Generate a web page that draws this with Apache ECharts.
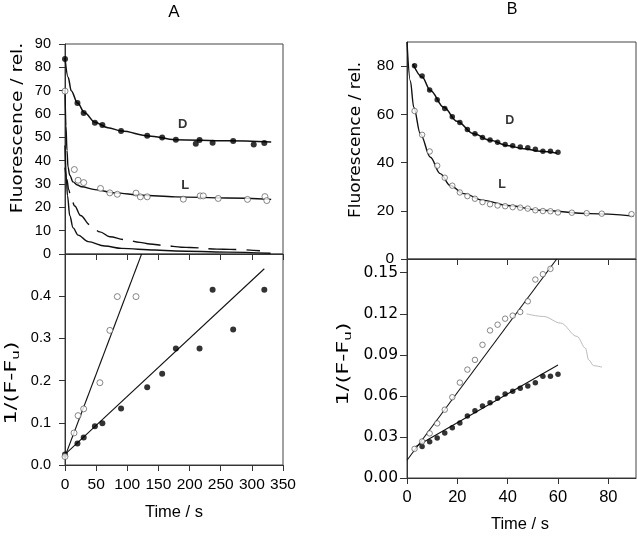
<!DOCTYPE html>
<html><head><meta charset="utf-8">
<script src="https://cdn.jsdelivr.net/npm/echarts@6/dist/echarts.min.js"></script>
<style>html,body{margin:0;padding:0;background:#fff}#c{width:637px;height:536px}</style>
</head><body><div id="c"></div>
<script>
// ---------- Panel A, top: fluorescence vs time ----------
const aTimeD = [0, 20, 30, 48, 60, 90, 132, 156, 178, 210, 216, 237, 270, 303, 320];
const aFluoD = [83.6, 64.7, 60.4, 56.3, 55.3, 52.7, 50.7, 49.9, 49.0, 47.3, 48.9, 47.7, 48.4, 46.9, 47.6];
const aTimeL = [0, 15, 21, 30, 57, 72, 84, 114, 121, 132, 190, 217, 222, 246, 293, 321, 324];
const aFluoL = [69.8, 36.2, 31.6, 30.6, 28.1, 26.2, 25.6, 26.1, 24.5, 24.5, 23.5, 24.9, 24.9, 23.8, 23.4, 24.6, 22.9];
// fitted curves
const aFitDTime = [0, 5, 10, 20, 32, 48, 69, 91, 134, 177, 260, 331];
const aFitDFluo = [84, 75.8, 70, 64.7, 60.4, 56.5, 54.1, 52.7, 50.6, 49.0, 48.5, 48.0];
const aFitLTime = [0, 1.5, 3.2, 4.8, 7.6, 12.9, 20, 26.4, 48, 80, 123, 177, 260, 331];
const aFitLFluo = [70, 55, 44.4, 37.3, 33.8, 30.9, 29.6, 28.8, 27.6, 26.2, 25.2, 24.5, 24.0, 23.4];
const aLowTime = [0, 2, 4, 7.6, 13, 21, 37, 64, 91, 144, 177, 260, 330];
const aLowFluo = [46.5, 33, 25, 16.5, 11.2, 8.1, 5.3, 3.4, 2.4, 1.7, 1.3, 0.8, 0.3];
const aDashTime = [0, 3, 6, 9, 15.6, 25, 40, 56, 72, 95, 120, 136, 160, 187, 201, 244, 265, 313];
const aDashFluo = [37, 32, 27.6, 24.8, 20.6, 16.5, 12.5, 9.5, 7.4, 6.2, 5.0, 4.3, 3.6, 2.9, 2.8, 2.1, 2.0, 1.4];
// ---------- Panel A, bottom: 1/(F-Fu) vs time ----------
const aInvTimeD = [0, 20, 30, 48, 60, 90, 132, 156, 178, 216, 237, 270, 320];
const aInvD = [0.025, 0.051, 0.065, 0.092, 0.099, 0.134, 0.184, 0.216, 0.276, 0.276, 0.415, 0.321, 0.415];
const aInvTimeL = [0, 14.5, 21, 30, 56, 72, 84, 114];
const aInvL = [0.020, 0.076, 0.117, 0.133, 0.195, 0.319, 0.399, 0.399];
const aRegDTime = [0, 320], aRegDVal = [0.025, 0.465];
const aRegLTime = [0, 123], aRegLVal = [0.020, 0.500];
// ---------- Panel B, top ----------
const bTimeD = [3, 6, 9, 12, 15, 18, 21, 24, 27, 30, 33, 36, 39, 42, 45, 48, 51, 54, 57, 60];
const bFluoD = [80.2, 75.9, 70.1, 66.1, 62.4, 59.0, 56.6, 53.7, 51.9, 50.4, 49.4, 48.4, 47.5, 47.0, 46.5, 46.1, 45.5, 44.7, 44.7, 44.3];
const bTimeL = [3, 6, 9, 12, 15, 18, 21, 24, 27, 30, 33, 36, 39, 42, 45, 48, 51, 54, 57, 60, 65.5, 71.4, 77.4, 89.2];
const bFluoL = [61.4, 51.5, 44.6, 38.7, 33.7, 30.4, 27.6, 26.1, 25.0, 23.6, 22.7, 22.2, 21.9, 21.5, 21.3, 20.9, 20.2, 19.9, 19.8, 19.3, 19.2, 19.0, 18.8, 18.6];
const bFitDTime = [2.4, 6, 9.3, 14.6, 19.9, 26.5, 33.1, 39.8, 46.4, 53, 59.6];
const bFitDFluo = [80.9, 75.5, 69.9, 62.9, 57.1, 51.9, 49.2, 47.1, 45.7, 44.7, 43.9];
const bFitLTime = [0, 1.3, 2.7, 5.3, 9.3, 13.2, 17.2, 22.5, 30.5, 39.8, 53, 72.9, 90];
const bFitLFluo = [90, 74, 62.9, 51.9, 42.2, 35.4, 30.5, 27.1, 24.3, 22.2, 20.2, 18.8, 17.8];
// ---------- Panel B, bottom ----------
const bInvTimeL = [3, 6, 9, 12, 15, 18, 21, 24, 27, 30, 33, 36, 39, 42, 45, 48, 51, 54, 57];
const bInvL = [0.0213, 0.0267, 0.0326, 0.0399, 0.0499, 0.059, 0.0697, 0.0792, 0.0863, 0.0973, 0.1078, 0.112, 0.1164, 0.1186, 0.1213, 0.1291, 0.145, 0.1489, 0.1528];
const bInvTimeD = [6, 9, 12, 15, 18, 21, 24, 27, 30, 33, 36, 39, 42, 45, 48, 51, 54, 57, 60];
const bInvD = [0.023, 0.0264, 0.0293, 0.0328, 0.0367, 0.0401, 0.0453, 0.0491, 0.0526, 0.055, 0.0582, 0.0614, 0.0634, 0.0656, 0.0673, 0.0695, 0.0744, 0.0744, 0.0758];
const bRegLTime = [0, 59.5], bRegLVal = [0.013, 0.160];
const bRegDTime = [3, 60], bRegDVal = [0.0225, 0.0825];
const bStrayTime = [47.5, 54.3, 61, 67.6, 70.9, 72.2, 74.2, 77.5];
const bStrayVal = [0.1199, 0.118, 0.1132, 0.1034, 0.0949, 0.0863, 0.082, 0.081];
// ---------- ticks / labels ----------
const bTicksX = [0, 20, 40, 60, 80];
const bTicksTop = [0, 20, 40, 60, 80];
const bTicksBottom = [0, 0.03, 0.06, 0.09, 0.12, 0.15];
const curveLabelsA = [{name: 'D', value: [189, 55.4]}, {name: 'L', value: [193, 29.2]}];
const curveLabelsB = [{name: 'D', value: [40.8, 57.4]}, {name: 'L', value: [37.8, 30.9]}];

const zip = (xs, ys) => xs.map((x, i) => [x, ys[i]]);
const AX = '#333';
const FONT = 'Liberation Sans';

function xAxis(gi, max, labels, extra) {
  return Object.assign({
    type: 'value', gridIndex: gi, min: 0, max: max,
    axisLine: {show: true, onZero: false, lineStyle: {color: AX, width: 1}},
    axisTick: {show: true, inside: false, length: 6, lineStyle: {color: AX}},
    axisLabel: {show: labels, color: '#000', fontFamily: FONT, fontSize: 15.5, margin: 11},
    splitLine: {show: false}
  }, extra || {});
}
function yAxis(gi, min, max, extra) {
  return Object.assign({
    type: 'value', gridIndex: gi, min: min, max: max,
    axisLine: {show: true, onZero: false, lineStyle: {color: AX, width: 1}},
    axisTick: {show: true, inside: false, length: 6, lineStyle: {color: AX}},
    splitLine: {show: false}
  }, extra || {});
}
const filled = (xi, data, size) => ({
  type: 'scatter', xAxisIndex: xi, yAxisIndex: xi, data: data, symbol: 'circle', symbolSize: size,
  itemStyle: {color: '#000'}, z: 5, silent: true
});
const open = (xi, data, size) => ({
  type: 'scatter', xAxisIndex: xi, yAxisIndex: xi, data: data, symbol: 'circle', symbolSize: size,
  itemStyle: {color: '#fff', borderColor: '#444', borderWidth: 0.8}, z: 5, silent: true
});
const curve = (xi, data, w, extra) => Object.assign({
  type: 'line', xAxisIndex: xi, yAxisIndex: xi, data: data, showSymbol: false, symbol: 'none',
  smooth: 0.35, smoothMonotone: 'x', lineStyle: {color: '#111', width: w}, z: 3, silent: true
}, extra || {});
const tag = (xi, data, size) => ({
  type: 'scatter', xAxisIndex: xi, yAxisIndex: xi, data: data, symbolSize: 0, silent: true,
  label: {show: true, position: 'inside', formatter: p => p.name, color: '#000',
          fontWeight: 'bold', fontFamily: FONT, fontSize: size}
});

const chart = echarts.init(document.getElementById('c'));
chart.setOption({
  animation: false,
  backgroundColor: '#fff',
  grid: [
    {left: 65, top: 44, width: 218, height: 210, show: true, borderColor: '#444', borderWidth: 1},
    {left: 65, top: 254, width: 218, height: 211, show: true, borderColor: '#444', borderWidth: 1},
    {left: 407, top: 42, width: 229, height: 217, show: true, borderColor: '#444', borderWidth: 1},
    {left: 407, top: 259, width: 229, height: 219, show: true, borderColor: '#444', borderWidth: 1}
  ],
  xAxis: [
    xAxis(0, 350, false, {interval: 50}),
    xAxis(1, 350, true, {interval: 50, axisLabel: {show: true, color: '#000', fontFamily: FONT, fontSize: 15.5, margin: 12}}),
    xAxis(2, 91, false, {axisTick: {show: true, length: 6, lineStyle: {color: AX}, customValues: bTicksX}}),
    xAxis(3, 91, true, {axisTick: {show: true, length: 6, lineStyle: {color: AX}, customValues: bTicksX},
      axisLabel: {show: true, customValues: bTicksX, color: '#000', fontFamily: FONT, fontSize: 16.5, margin: 11}})
  ],
  yAxis: [
    yAxis(0, 0, 90, {interval: 10, axisLabel: {color: '#000', fontFamily: FONT, fontSize: 14.5, margin: 14}}),
    yAxis(1, 0, 0.5, {interval: 0.1, axisLabel: {color: '#000', fontFamily: FONT, fontSize: 14.5, margin: 14,
      showMaxLabel: false, formatter: v => v.toFixed(1)}}),
    yAxis(2, 0, 90, {axisTick: {show: true, length: 6, lineStyle: {color: AX}, customValues: bTicksTop},
      axisLabel: {customValues: bTicksTop, color: '#000', fontFamily: FONT, fontSize: 15.5, margin: 13}}),
    yAxis(3, 0, 0.16, {axisTick: {show: true, length: 7, lineStyle: {color: AX}, customValues: bTicksBottom},
      axisLabel: {customValues: bTicksBottom, color: '#000', fontFamily: 'DejaVu Sans', fontSize: 15.5, margin: 9,
        formatter: v => v.toFixed(2)}})
  ],
  series: [
    // Panel A top
    curve(0, zip(aFitDTime, aFitDFluo), 1.5),
    curve(0, zip(aFitLTime, aFitLFluo), 1.4),
    curve(0, zip(aLowTime, aLowFluo), 1.4),
    curve(0, zip(aDashTime, aDashFluo), 1.4, {lineStyle: {color: '#111', width: 1.4, type: [28, 10], dashOffset: 2}}),
    filled(0, zip(aTimeD, aFluoD), 6),
    open(0, zip(aTimeL, aFluoL), 6),
    tag(0, curveLabelsA, 13),
    // Panel A bottom
    curve(1, zip(aRegDTime, aRegDVal), 1.1, {smooth: false}),
    curve(1, zip(aRegLTime, aRegLVal), 1.1, {smooth: false}),
    filled(1, zip(aInvTimeD, aInvD), 6),
    open(1, zip(aInvTimeL, aInvL), 6),
    // Panel B top
    curve(2, zip(bFitDTime, bFitDFluo), 1.5),
    curve(2, zip(bFitLTime, bFitLFluo), 1.4),
    filled(2, zip(bTimeD, bFluoD), 5.5),
    open(2, zip(bTimeL, bFluoL), 5.5),
    tag(2, curveLabelsB, 12.5),
    // Panel B bottom
    curve(3, zip(bStrayTime, bStrayVal), 0.8, {lineStyle: {color: '#aaa', width: 0.8}}),
    curve(3, zip(bRegLTime, bRegLVal), 1.1, {smooth: false}),
    curve(3, zip(bRegDTime, bRegDVal), 1.1, {smooth: false}),
    filled(3, zip(bInvTimeD, bInvD), 5.5),
    open(3, zip(bInvTimeL, bInvL), 5.5)
  ],
  graphic: [
    {type: 'text', x: 174, y: 12, silent: true,
     style: {text: 'A', fontFamily: FONT, fontSize: 17, fill: '#000', align: 'center', verticalAlign: 'middle'}},
    {type: 'text', x: 512, y: 10, silent: true,
     style: {text: 'B', fontFamily: FONT, fontSize: 16, fill: '#000', align: 'center', verticalAlign: 'middle'}},
    {type: 'text', x: 18, y: 128, rotation: Math.PI / 2, scaleX: 1.2, silent: true,
     style: {text: 'Fluorescence / rel.', fontFamily: 'DejaVu Sans', fontSize: 15.5, fill: '#000', align: 'center', verticalAlign: 'middle'}},
    {type: 'text', x: 356, y: 140, rotation: Math.PI / 2, scaleX: 1.1, silent: true,
     style: {text: 'Fluorescence / rel.', fontFamily: 'DejaVu Sans', fontSize: 15.5, fill: '#000', align: 'center', verticalAlign: 'middle'}},
    {type: 'text', x: 12, y: 383, rotation: Math.PI / 2, scaleX: 1.5, silent: true,
     style: {text: '{a|1/(F-F}{s|u}{a|)}', align: 'center', verticalAlign: 'middle',
       rich: {a: {fontFamily: 'DejaVu Sans', fontSize: 15, fill: '#000', color: '#000', lineHeight: 20},
              s: {fontFamily: 'DejaVu Sans', fontSize: 10, fill: '#000', color: '#000', lineHeight: 10, padding: [8, 0, 0, 0]}}}},
    {type: 'text', x: 344, y: 364, rotation: Math.PI / 2, scaleX: 1.5, silent: true,
     style: {text: '{a|1/(F-F}{s|u}{a|)}', align: 'center', verticalAlign: 'middle',
       rich: {a: {fontFamily: 'DejaVu Sans', fontSize: 15, fill: '#000', color: '#000', lineHeight: 20},
              s: {fontFamily: 'DejaVu Sans', fontSize: 10, fill: '#000', color: '#000', lineHeight: 10, padding: [8, 0, 0, 0]}}}},
    {type: 'text', x: 174, y: 512, silent: true,
     style: {text: 'Time / s', fontFamily: FONT, fontSize: 16.5, fill: '#000', align: 'center', verticalAlign: 'middle'}},
    {type: 'text', x: 520, y: 524, silent: true,
     style: {text: 'Time / s', fontFamily: FONT, fontSize: 16.5, fill: '#000', align: 'center', verticalAlign: 'middle'}}
  ]
});
</script></body></html>
